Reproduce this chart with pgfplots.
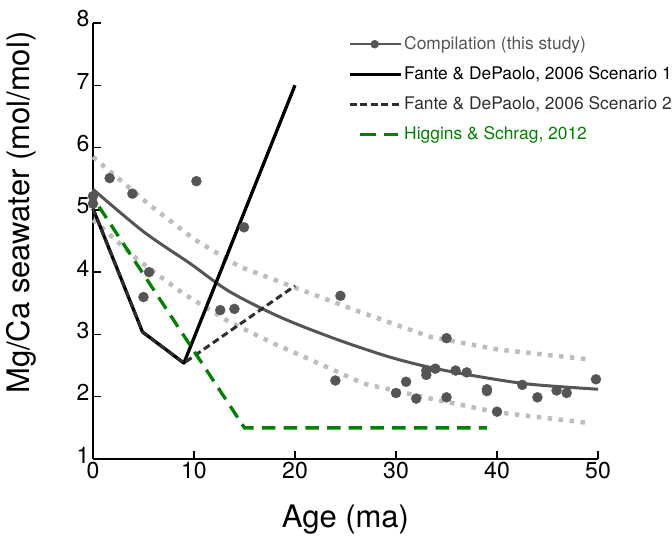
\documentclass[border=0pt]{standalone}
\usepackage{pgfplots}
\pgfplotsset{compat=1.18}
\usepackage{fontspec}
\setmainfont{TeX Gyre Heros}

\definecolor{ptgray}{HTML}{555555}
\definecolor{dotgray}{HTML}{BDBDBD}
\definecolor{dashgray}{HTML}{2E2E2E}
\definecolor{hsgreen}{RGB}{0,130,0}

\begin{document}
\begin{tikzpicture}
\begin{axis}[
    scale only axis,
    width=505pt, height=436pt,
    xmin=0, xmax=50,
    ymin=1, ymax=8,
    axis lines=left,
    x axis line style={-}, y axis line style={-},
    axis line style={line width=1.3pt, black},
    xtick={0,10,...,50},
    ytick={1,...,8},
    tick align=inside,
    major tick length=8pt,
    tick style={line width=1.3pt, black},
    /pgf/number format/assume math mode=true,
    ticklabel style={font=\fontsize{23}{23}\selectfont},
    yticklabel style={yshift=4pt},
    xlabel={Age (ma)},
    ylabel={Mg/Ca seawater (mol/mol)},
    label style={font=\fontsize{31}{31}\selectfont},
    xlabel style={at={(axis description cs:0.5,-0.138)}, anchor=center},
    ylabel style={at={(axis description cs:-0.141,0.565)}, anchor=center},
    clip=false,
    legend cell align=left,
    legend style={
        at={(axis description cs:0.505,0.973)}, anchor=north west,
        draw=none, fill=none,
        font=\fontsize{17.4}{17.4}\selectfont,
        row sep=11.5pt,
        inner sep=0pt,
        nodes={inner sep=2pt},
    },
]

% --- legend ---
\addlegendimage{legend image code/.code={
    \draw[ptgray, line width=2.5pt] (0pt,0pt) -- (51pt,0pt);
    \fill[ptgray] (25pt,0pt) circle (4pt);}}
\addlegendentry{\textcolor{ptgray}{Compilation (this study)}}
\addlegendimage{legend image code/.code={
    \draw[black, line width=3pt] (0pt,0pt) -- (51pt,0pt);}}
\addlegendentry{Fante \& DePaolo, 2006 Scenario 1}
\addlegendimage{legend image code/.code={
    \draw[dashgray, line width=3pt, dash pattern=on 7pt off 3.5pt] (0pt,0pt) -- (51pt,0pt);}}
\addlegendentry{\textcolor{dashgray}{Fante \& DePaolo, 2006 Scenario 2}}
\addlegendimage{legend image code/.code={
    \draw[hsgreen, line width=3pt] (10pt,0pt) -- (26pt,0pt) (34pt,0pt) -- (48pt,0pt);}}
\addlegendentry{\textcolor{hsgreen}{Higgins \& Schrag, 2012}}

% --- confidence envelope (dotted) ---
\addplot[forget plot, dotgray, line width=4.5pt, dash pattern=on 4.5pt off 6.5pt] coordinates {
    (0,5.85) (5.6,5.08) (10,4.53) (14.5,4.09) (20.2,3.74) (26.8,3.34)
    (33.4,2.96) (40,2.76) (49,2.60)
};
\addplot[forget plot, dotgray, line width=4.5pt, dash pattern=on 4.5pt off 6.5pt] coordinates {
    (0,4.84) (4.5,4.19) (8.9,3.66) (13.5,3.20) (17.8,2.86) (20.2,2.69)
    (26.8,2.21) (33.4,1.97) (40,1.75) (49,1.58)
};

% --- fit through compilation ---
\addplot[forget plot, ptgray, line width=3pt, smooth] coordinates {
    (0,5.33) (5,4.65) (9.6,4.14) (13.5,3.69) (18.5,3.28) (23.8,2.94)
    (29.1,2.65) (33.4,2.47) (38.3,2.32) (43.3,2.20) (50,2.12)
};

% --- Fante & DePaolo scenario 1 ---
\addplot[forget plot, black, line width=3.3pt, line join=round] coordinates {
    (0,5.02) (4.9,3.04) (9,2.54) (20,7.0)
};

% --- Fante & DePaolo scenario 2 ---
\addplot[forget plot, dashgray, line width=3pt, dash pattern=on 7pt off 4pt] coordinates {
    (0,5.02) (4.9,3.04) (9,2.54) (20,3.78)
};

% --- Higgins & Schrag ---
\addplot[forget plot, hsgreen, line width=3.3pt, dash pattern=on 13.5pt off 8.2pt] coordinates {
    (0.6,5.05) (15,1.5) (39,1.5)
};

% --- compilation data ---
\addplot[forget plot, only marks, mark=*, mark size=5pt, ptgray, mark options={draw=ptgray, fill=ptgray}] coordinates {
    (0,5.22) (0,5.10) (1.65,5.51) (3.9,5.26) (5.0,3.60) (5.55,4.00)
    (10.24,5.46) (12.6,3.39) (14.0,3.41) (14.95,4.72) (24.0,2.26) (24.5,3.62)
    (30.0,2.06) (31.0,2.24) (32.0,1.97) (33.0,2.35) (33.0,2.42) (33.9,2.45)
    (35.0,2.94) (35.0,1.99) (35.9,2.42) (37.0,2.39) (39.0,2.09) (39.0,2.12) (40.0,1.76)
    (42.5,2.19) (44.0,1.99) (45.9,2.10) (46.9,2.06) (49.8,2.28)
};

\coordinate (o) at (rel axis cs:0,0);
\end{axis}
\pgfresetboundingbox
\useasboundingbox (o) ++(-93pt,-78pt) rectangle ++(672pt,537pt);
\end{tikzpicture}
\end{document}
